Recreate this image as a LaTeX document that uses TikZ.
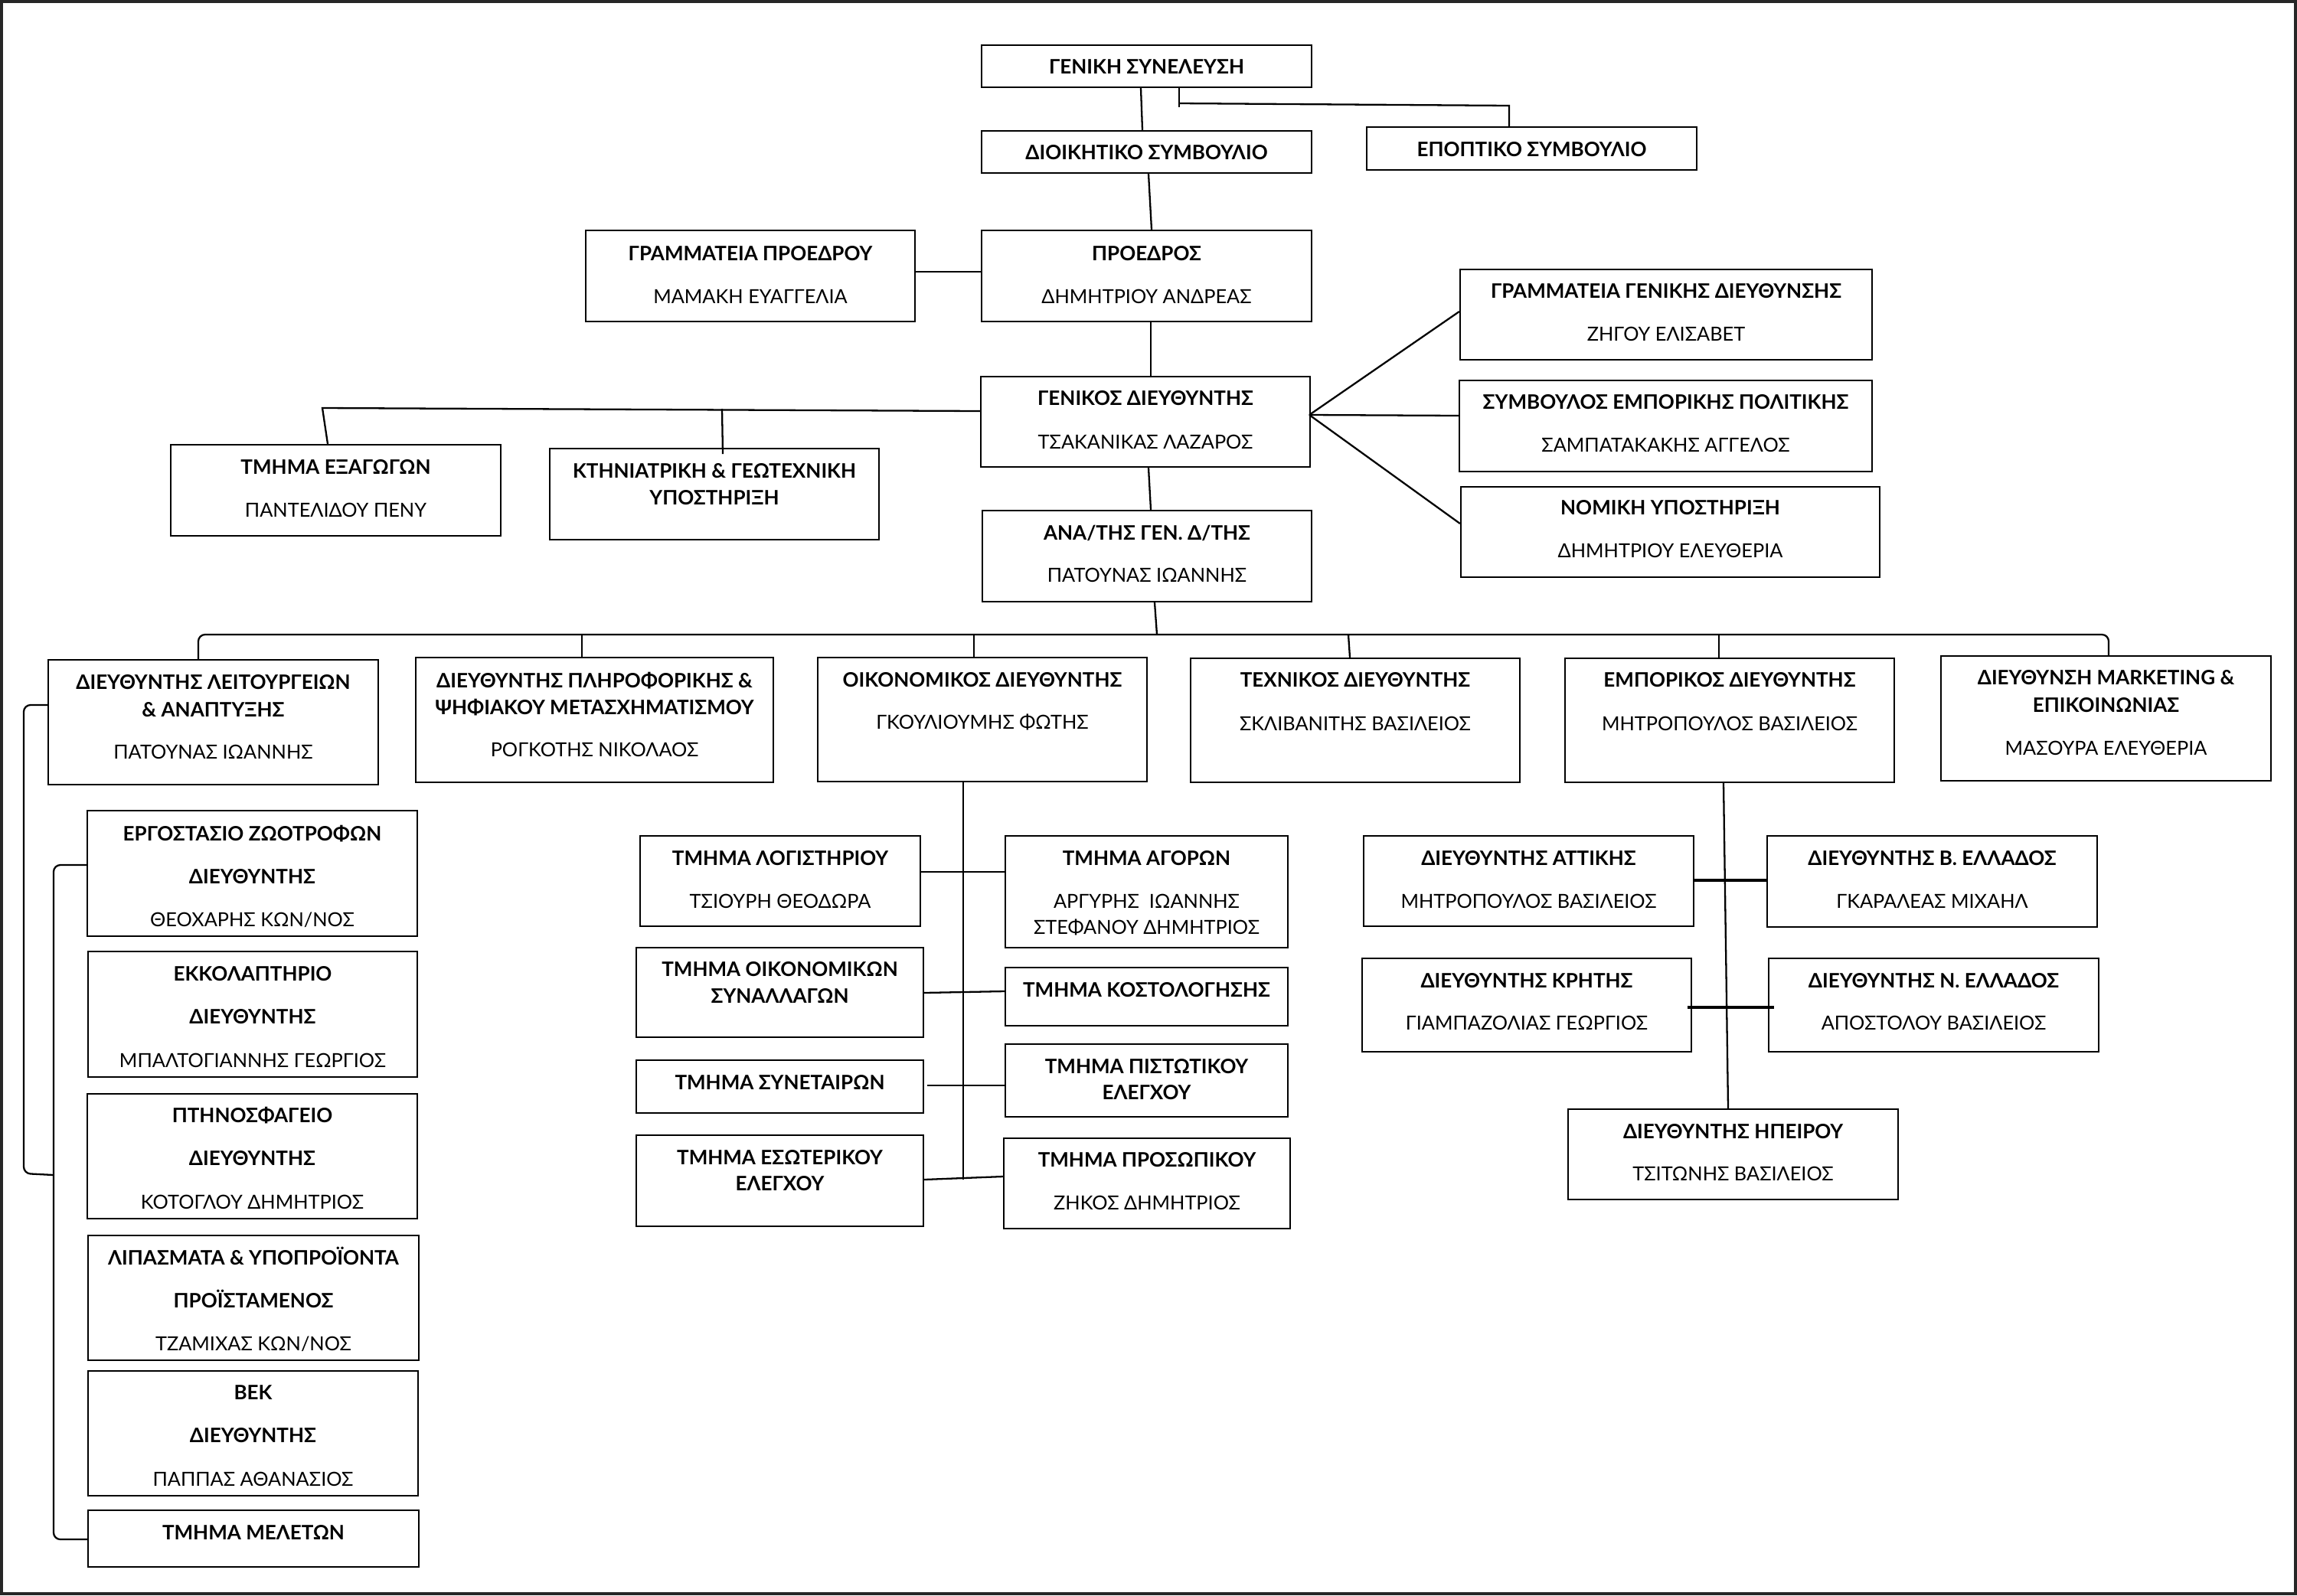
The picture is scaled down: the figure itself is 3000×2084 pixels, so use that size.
\documentclass[tikz,border=0pt]{standalone}
\usepackage{fontspec}
\setmainfont{Lato}
\usetikzlibrary{fit}
\tikzset{
  box/.style={draw, line width=0.65pt, inner sep=0pt, rectangle},
  ttl/.style={font=\fontsize{7.4}{8}\selectfont\bfseries, inner sep=0pt, text height=5.3pt, text depth=0pt, anchor=center},
  nme/.style={font=\fontsize{7.2}{8}\selectfont, inner sep=0pt, text height=5.2pt, text depth=0pt, anchor=center},
  con/.style={line width=0.65pt},
  tcon/.style={line width=1.1pt},
}
\newcommand\bx[5]{\node[box, fit={(#2,#3) (#4,#5)}] (#1) {};}
\newcommand\T[4]{\node[ttl] (#1) at (#2.center |- 0,#3) {#4};}
\newcommand\N[4]{\node[nme] (#1) at (#2.center |- 0,#3) {#4};}
\begin{document}
\begin{tikzpicture}[x=0.01cm, y=-0.01cm]
\useasboundingbox (0,0) rectangle (3000,2084);
\draw[line width=0.9pt, black!85] (2,2) rectangle (2998,2082);
% boxes
\bx{gs}{1282}{59}{1713}{114}
\bx{ds}{1282}{171}{1713}{226}
\bx{ep}{1785}{166}{2216}{222}
\bx{gp}{765}{301}{1195}{420}
\bx{pr}{1282}{301}{1713}{420}
\bx{gd}{1281}{492}{1711}{610}
\bx{ex}{223}{581}{654}{700}
\bx{kt}{718}{586}{1148}{705}
\bx{gg}{1907}{352}{2445}{470}
\bx{sb}{1906}{497}{2445}{616}
\bx{nm}{1908}{636}{2455}{754}
\bx{an}{1283}{667}{1713}{786}
\bx{le}{63}{862}{494}{1025}
\bx{pl}{543}{859}{1010}{1022}
\bx{oi}{1068}{859}{1498}{1021}
\bx{te}{1555}{860}{1985}{1022}
\bx{em}{2044}{860}{2474}{1022}
\bx{mk}{2535}{857}{2966}{1020}
\bx{er}{114}{1059}{545}{1223}
\bx{ek}{115}{1243}{545}{1407}
\bx{pt}{114}{1429}{545}{1592}
\bx{li}{115}{1614}{547}{1777}
\bx{vk}{115}{1791}{546}{1954}
\bx{ml}{115}{1973}{547}{2047}
\bx{lo}{836}{1092}{1202}{1210}
\bx{ag}{1313}{1092}{1682}{1238}
\bx{os}{831}{1238}{1206}{1355}
\bx{ko}{1313}{1264}{1682}{1340}
\bx{sn}{831}{1385}{1206}{1454}
\bx{pi}{1313}{1364}{1682}{1459}
\bx{es}{831}{1483}{1206}{1602}
\bx{pp}{1311}{1487}{1685}{1605}
\bx{at}{1781}{1092}{2212}{1210}
\bx{vb}{2308}{1092}{2739}{1211}
\bx{kr}{1779}{1252}{2209}{1374}
\bx{ne}{2310}{1252}{2741}{1374}
\bx{ip}{2048}{1449}{2479}{1567}
% texts
\T{gs-t}{gs}{87}{ΓΕΝΙΚΗ ΣΥΝΕΛΕΥΣΗ}
\T{ds-t}{ds}{199}{ΔΙΟΙΚΗΤΙΚΟ ΣΥΜΒΟΥΛΙΟ}
\T{ep-t}{ep}{195}{ΕΠΟΠΤΙΚΟ ΣΥΜΒΟΥΛΙΟ}
\T{gp-t}{gp}{331}{ΓΡΑΜΜΑΤΕΙΑ ΠΡΟΕΔΡΟΥ}
\N{gp-n}{gp}{387}{ΜΑΜΑΚΗ ΕΥΑΓΓΕΛΙΑ}
\T{pr-t}{pr}{331}{ΠΡΟΕΔΡΟΣ}
\N{pr-n}{pr}{387}{ΔΗΜΗΤΡΙΟΥ ΑΝΔΡΕΑΣ}
\T{gd-t}{gd}{520}{ΓΕΝΙΚΟΣ ΔΙΕΥΘΥΝΤΗΣ}
\N{gd-n}{gd}{577}{ΤΣΑΚΑΝΙΚΑΣ ΛΑΖΑΡΟΣ}
\T{ex-t}{ex}{610}{ΤΜΗΜΑ ΕΞΑΓΩΓΩΝ}
\N{ex-n}{ex}{666}{ΠΑΝΤΕΛΙΔΟΥ ΠΕΝΥ}
\T{kt-t}{kt}{615}{ΚΤΗΝΙΑΤΡΙΚΗ \& ΓΕΩΤΕΧΝΙΚΗ}
\T{kt-u}{kt}{650}{ΥΠΟΣΤΗΡΙΞΗ}
\T{gg-t}{gg}{380}{ΓΡΑΜΜΑΤΕΙΑ ΓΕΝΙΚΗΣ ΔΙΕΥΘΥΝΣΗΣ}
\N{gg-n}{gg}{436}{ΖΗΓΟΥ ΕΛΙΣΑΒΕΤ}
\T{sb-t}{sb}{525}{ΣΥΜΒΟΥΛΟΣ ΕΜΠΟΡΙΚΗΣ ΠΟΛΙΤΙΚΗΣ}
\N{sb-n}{sb}{581}{ΣΑΜΠΑΤΑΚΑΚΗΣ ΑΓΓΕΛΟΣ}
\T{nm-t}{nm}{663}{ΝΟΜΙΚΗ ΥΠΟΣΤΗΡΙΞΗ}
\N{nm-n}{nm}{719}{ΔΗΜΗΤΡΙΟΥ ΕΛΕΥΘΕΡΙΑ}
\T{an-t}{an}{696}{ΑΝΑ/ΤΗΣ ΓΕΝ. Δ/ΤΗΣ}
\N{an-n}{an}{751}{ΠΑΤΟΥΝΑΣ ΙΩΑΝΝΗΣ}
\T{le-t}{le}{891}{ΔΙΕΥΘΥΝΤΗΣ ΛΕΙΤΟΥΡΓΕΙΩΝ}
\T{le-u}{le}{927}{\& ΑΝΑΠΤΥΞΗΣ}
\N{le-n}{le}{982}{ΠΑΤΟΥΝΑΣ ΙΩΑΝΝΗΣ}
\T{pl-t}{pl}{889}{ΔΙΕΥΘΥΝΤΗΣ ΠΛΗΡΟΦΟΡΙΚΗΣ \&}
\T{pl-u}{pl}{924}{ΨΗΦΙΑΚΟΥ ΜΕΤΑΣΧΗΜΑΤΙΣΜΟΥ}
\N{pl-n}{pl}{979}{ΡΟΓΚΟΤΗΣ ΝΙΚΟΛΑΟΣ}
\T{oi-t}{oi}{888}{ΟΙΚΟΝΟΜΙΚΟΣ ΔΙΕΥΘΥΝΤΗΣ}
\N{oi-n}{oi}{943}{ΓΚΟΥΛΙΟΥΜΗΣ ΦΩΤΗΣ}
\T{te-t}{te}{888}{ΤΕΧΝΙΚΟΣ ΔΙΕΥΘΥΝΤΗΣ}
\N{te-n}{te}{945}{ΣΚΛΙΒΑΝΙΤΗΣ ΒΑΣΙΛΕΙΟΣ}
\T{em-t}{em}{888}{ΕΜΠΟΡΙΚΟΣ ΔΙΕΥΘΥΝΤΗΣ}
\N{em-n}{em}{945}{ΜΗΤΡΟΠΟΥΛΟΣ ΒΑΣΙΛΕΙΟΣ}
\T{mk-t}{mk}{885}{ΔΙΕΥΘΥΝΣΗ MARKETING \&}
\T{mk-u}{mk}{921}{ΕΠΙΚΟΙΝΩΝΙΑΣ}
\N{mk-n}{mk}{977}{ΜΑΣΟΥΡΑ ΕΛΕΥΘΕΡΙΑ}
\T{er-t}{er}{1089}{ΕΡΓΟΣΤΑΣΙΟ ΖΩΟΤΡΟΦΩΝ}
\T{er-u}{er}{1145}{ΔΙΕΥΘΥΝΤΗΣ}
\N{er-n}{er}{1201}{ΘΕΟΧΑΡΗΣ ΚΩΝ/ΝΟΣ}
\T{ek-t}{ek}{1272}{ΕΚΚΟΛΑΠΤΗΡΙΟ}
\T{ek-u}{ek}{1328}{ΔΙΕΥΘΥΝΤΗΣ}
\N{ek-n}{ek}{1385}{ΜΠΑΛΤΟΓΙΑΝΝΗΣ ΓΕΩΡΓΙΟΣ}
\T{pt-t}{pt}{1457}{ΠΤΗΝΟΣΦΑΓΕΙΟ}
\T{pt-u}{pt}{1513}{ΔΙΕΥΘΥΝΤΗΣ}
\N{pt-n}{pt}{1570}{ΚΟΤΟΓΛΟΥ ΔΗΜΗΤΡΙΟΣ}
\T{li-t}{li}{1643}{ΛΙΠΑΣΜΑΤΑ \& ΥΠΟΠΡΟΪΟΝΤΑ}
\T{li-u}{li}{1699}{ΠΡΟΪΣΤΑΜΕΝΟΣ}
\N{li-n}{li}{1755}{ΤΖΑΜΙΧΑΣ ΚΩΝ/ΝΟΣ}
\T{vk-t}{vk}{1819}{ΒΕΚ}
\T{vk-u}{vk}{1875}{ΔΙΕΥΘΥΝΤΗΣ}
\N{vk-n}{vk}{1932}{ΠΑΠΠΑΣ ΑΘΑΝΑΣΙΟΣ}
\T{ml-t}{ml}{2002}{ΤΜΗΜΑ ΜΕΛΕΤΩΝ}
\T{lo-t}{lo}{1121}{ΤΜΗΜΑ ΛΟΓΙΣΤΗΡΙΟΥ}
\N{lo-n}{lo}{1177}{ΤΣΙΟΥΡΗ ΘΕΟΔΩΡΑ}
\T{ag-t}{ag}{1121}{ΤΜΗΜΑ ΑΓΟΡΩΝ}
\N{ag-n}{ag}{1177}{ΑΡΓΥΡΗΣ\ \ ΙΩΑΝΝΗΣ}
\N{ag-m}{ag}{1211}{ΣΤΕΦΑΝΟΥ ΔΗΜΗΤΡΙΟΣ}
\T{os-t}{os}{1266}{ΤΜΗΜΑ ΟΙΚΟΝΟΜΙΚΩΝ}
\T{os-u}{os}{1301}{ΣΥΝΑΛΛΑΓΩΝ}
\T{ko-t}{ko}{1293}{ΤΜΗΜΑ ΚΟΣΤΟΛΟΓΗΣΗΣ}
\T{sn-t}{sn}{1414}{ΤΜΗΜΑ ΣΥΝΕΤΑΙΡΩΝ}
\T{pi-t}{pi}{1393}{ΤΜΗΜΑ ΠΙΣΤΩΤΙΚΟΥ}
\T{pi-u}{pi}{1427}{ΕΛΕΓΧΟΥ}
\T{es-t}{es}{1512}{ΤΜΗΜΑ ΕΣΩΤΕΡΙΚΟΥ}
\T{es-u}{es}{1546}{ΕΛΕΓΧΟΥ}
\T{pp-t}{pp}{1515}{ΤΜΗΜΑ ΠΡΟΣΩΠΙΚΟΥ}
\N{pp-n}{pp}{1571}{ΖΗΚΟΣ ΔΗΜΗΤΡΙΟΣ}
\T{at-t}{at}{1121}{ΔΙΕΥΘΥΝΤΗΣ ΑΤΤΙΚΗΣ}
\N{at-n}{at}{1177}{ΜΗΤΡΟΠΟΥΛΟΣ ΒΑΣΙΛΕΙΟΣ}
\T{vb-t}{vb}{1121}{ΔΙΕΥΘΥΝΤΗΣ Β. ΕΛΛΑΔΟΣ}
\N{vb-n}{vb}{1177}{ΓΚΑΡΑΛΕΑΣ ΜΙΧΑΗΛ}
\T{kr-t}{kr}{1281}{ΔΙΕΥΘΥΝΤΗΣ ΚΡΗΤΗΣ}
\N{kr-n}{kr}{1336}{ΓΙΑΜΠΑΖΟΛΙΑΣ ΓΕΩΡΓΙΟΣ}
\T{ne-t}{ne}{1281}{ΔΙΕΥΘΥΝΤΗΣ Ν. ΕΛΛΑΔΟΣ}
\N{ne-n}{ne}{1336}{ΑΠΟΣΤΟΛΟΥ ΒΑΣΙΛΕΙΟΣ}
\T{ip-t}{ip}{1478}{ΔΙΕΥΘΥΝΤΗΣ ΗΠΕΙΡΟΥ}
\N{ip-n}{ip}{1533}{ΤΣΙΤΩΝΗΣ ΒΑΣΙΛΕΙΟΣ}
% coordinates
\coordinate (epA) at (1540,135);
\coordinate (epB) at (1971,138);
\coordinate (epC) at (1540,140);
\coordinate (gdL) at (421,533);
\coordinate (ktT) at (943,534);
\coordinate (fan) at (1710,542);
\coordinate (busL) at (259,829);
\coordinate (busR) at (2754,829);
\coordinate (busA) at (1511,829);
\coordinate (brA) at (31,921);
\coordinate (brB) at (31,1533);
\coordinate (brC) at (70,1535);
\coordinate (brD) at (70,1130);
\coordinate (brE) at (70,2011);
\coordinate (oiB) at (1258,1541);
\coordinate (snR) at (1211,1418);
\coordinate (ktB) at (944,593);
% connectors
\draw[con] (gs.south -| 1490,0) -- (ds.north -| 1492,0);
\draw[con] (gs.south -| 1540,0) -- (epC);
\draw[con] (epA) -- (epB) -- (ep.north -| epB);
\draw[con] (ds.south -| 1500,0) -- (pr.north -| 1504,0);
\draw[con] (gp.east |- 0,355) -- (pr.west |- 0,355);
\draw[con] (pr.south -| 1503,0) -- (gd.north -| 1503,0);
\draw[con] (gd.west |- 0,537) -- (gdL) -- (ex.north -| 428,0);
\draw[con] (ktT) -- (ktB);
\draw[con] (fan) -- (gg.west |- 0,407);
\draw[con] (fan) -- (sb.west |- 0,543);
\draw[con] (fan) -- (nm.west |- 0,684);
\draw[con] (gd.south -| 1500,0) -- (an.north -| 1503,0);
\draw[con] (an.south -| 1508,0) -- (busA);
\draw[con, rounded corners=2.5pt] (le.north -| busL) -- (busL) -- (busR) -- (mk.north -| busR);
\draw[con] (busL -| 760,0) -- (pl.north -| 760,0);
\draw[con] (busL -| 1272,0) -- (oi.north -| 1272,0);
\draw[con] (busL -| 1761,0) -- (te.north -| 1763,0);
\draw[con] (busL -| 2245,0) -- (em.north -| 2245,0);
\draw[con, rounded corners=2.5pt] (le.west |- brA) -- (brA) -- (brB) -- (brC);
\draw[con, rounded corners=2.5pt] (er.west |- brD) -- (brD) -- (brE) -- (ml.west |- brE);
\draw[con] (oi.south -| 1258,0) -- (oiB);
\draw[con] (lo.east |- 0,1139) -- (ag.west |- 0,1139);
\draw[con] (os.east |- 0,1297) -- (ko.west |- 0,1295);
\draw[con] (snR) -- (pi.west |- snR);
\draw[con] (es.east |- 0,1541) -- (pp.west |- 0,1537);
\draw[con] (em.south -| 2251,0) -- (ip.north -| 2257,0);
\draw[tcon] (at.east |- 0,1150) -- (vb.west |- 0,1150);
\draw[tcon] (2204,1316) -- (2317,1316);
\end{tikzpicture}
\end{document}
